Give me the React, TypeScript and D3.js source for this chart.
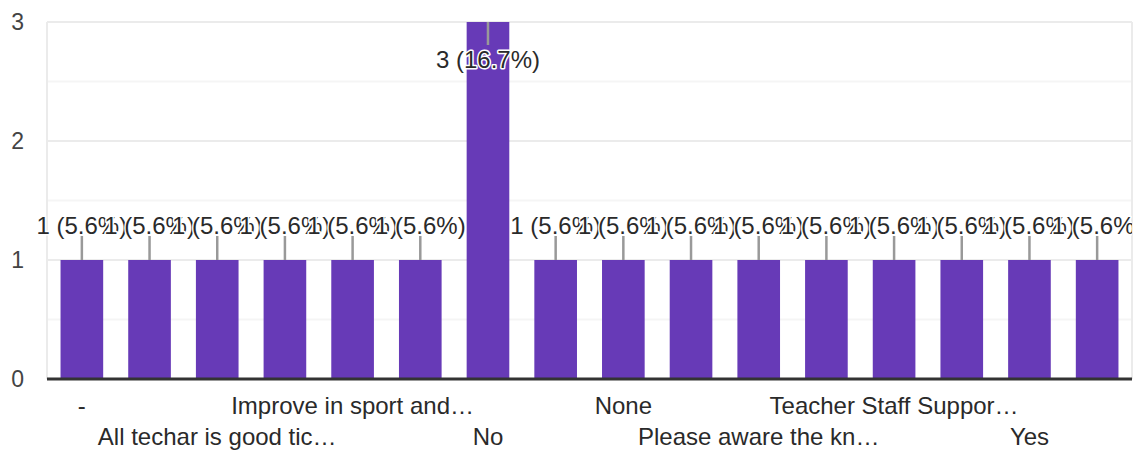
import React from "react";
import * as d3 from "d3";

const categories: string[] = [
  "-",
  "(hidden 2)",
  "All techar is good tic…",
  "(hidden 4)",
  "Improve in sport and…",
  "(hidden 6)",
  "No",
  "(hidden 8)",
  "None",
  "(hidden 10)",
  "Please aware the kn…",
  "(hidden 12)",
  "Teacher Staff Suppor…",
  "(hidden 14)",
  "Yes",
  "(hidden 16)",
];
const counts: number[] = [1, 1, 1, 1, 1, 1, 3, 1, 1, 1, 1, 1, 1, 1, 1, 1];
const percents: string[] = [
  "5.6%", "5.6%", "5.6%", "5.6%", "5.6%", "5.6%", "16.7%", "5.6%",
  "5.6%", "5.6%", "5.6%", "5.6%", "5.6%", "5.6%", "5.6%", "5.6%",
];
const yTicks: number[] = [0, 1, 2, 3];
const yMinor: number[] = [0.5, 1.5, 2.5];

const W = 1144;
const H = 452;
const FONT = "'Liberation Sans', Arial, sans-serif";

export default function App() {
  const left = 47;
  const right = 1132;
  const top = 22;
  const bottom = 379;

  const x = d3
    .scaleBand<number>()
    .domain(d3.range(categories.length))
    .range([left, right])
    .paddingInner(0.37)
    .paddingOuter(0.2);
  const y = d3.scaleLinear().domain([0, 3]).range([bottom, top]);
  const bw = x.bandwidth();

  return (
    <svg
      width={W}
      height={H}
      style={{ position: "absolute", left: 0, top: 0, background: "#fff" }}
      fontFamily={FONT}
    >
      <defs>
        <clipPath id="annClip">
          <rect x={0} y={0} width={right} height={H} />
        </clipPath>
      </defs>
      {/* minor gridlines */}
      {yMinor.map((t) => (
        <line key={"m" + t} x1={left} x2={right} y1={y(t)} y2={y(t)} stroke="#f5f5f5" strokeWidth={2} />
      ))}
      {/* major gridlines */}
      {yTicks.filter((t) => t > 0).map((t) => (
        <line key={"g" + t} x1={left} x2={right} y1={y(t)} y2={y(t)} stroke="#ebebeb" strokeWidth={2} />
      ))}
      <line x1={left} x2={left} y1={top} y2={bottom} stroke="#ebebeb" strokeWidth={2} />
      <line x1={right} x2={right} y1={top} y2={bottom} stroke="#ebebeb" strokeWidth={2} />

      {/* y tick labels */}
      {yTicks.map((t) => (
        <text key={"t" + t} x={24} y={y(t)} dy="0.36em" textAnchor="end" fontSize={23} fill="#444">
          {t}
        </text>
      ))}

      {/* bars */}
      {counts.map((v, i) => (
        <rect key={"b" + i} x={x(i)!} y={y(v)} width={bw} height={bottom - y(v)} fill="#673ab7" />
      ))}

      {/* baseline */}
      <line x1={left} x2={right} y1={bottom} y2={bottom} stroke="#333" strokeWidth={3} />

      {/* annotations */}
      <g clipPath="url(#annClip)">
        {counts.map((v, i) => {
          const cx = x(i)! + bw / 2;
          const yt = y(v);
          const inside = yt - 30 < top;
          const l1 = inside ? yt : yt - 24;
          const l2 = inside ? yt + 23 : yt;
          const by = inside ? yt + 46 : yt - 26;
          return (
            <g key={"a" + i}>
              <line x1={cx} x2={cx} y1={l1} y2={l2} stroke="#999" strokeWidth={2.5} />
              <text
                x={cx}
                y={by}
                textAnchor="middle"
                fontSize={24}
                fill="#2a2a2a"
                stroke="#fff"
                strokeWidth={3}
                paintOrder="stroke"
                strokeLinejoin="round"
              >
                {`${v} (${percents[i]})`}
              </text>
            </g>
          );
        })}
      </g>

      {/* x labels: every other category, alternating rows */}
      {categories.map((c, i) => {
        if (i % 2 === 1) return null;
        const cx = x(i)! + bw / 2;
        const row = (i / 2) % 2;
        return (
          <text key={"x" + i} x={cx} y={row === 0 ? 414 : 445} textAnchor="middle" fontSize={24} fill="#2a2a2a">
            {c}
          </text>
        );
      })}
    </svg>
  );
}
